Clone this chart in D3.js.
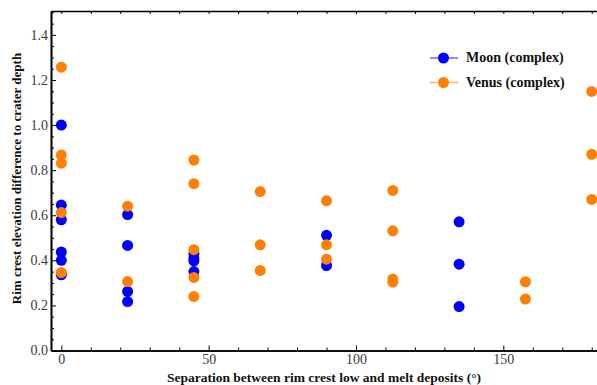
<!DOCTYPE html>
<html>
<head>
<meta charset="utf-8">
<script src="https://cdn.jsdelivr.net/npm/d3@7"></script>
<style>
  body { margin: 0; background: #fff; }
  .label { font-family: 'Liberation Serif', 'Times New Roman', serif; font-size: 13px; font-weight: bold; fill: #111; }
</style>
</head>
<body>
<div id="chart"></div>
<script>
// separation (degrees) and ratio values
let moonX = [0, 0, 0, 0, 0, 0, 22.5, 22.5, 22.5, 22.5, 45, 45, 45, 45, 90, 90, 135, 135, 135]
let moonY = [1.0, 0.645, 0.58, 0.437, 0.40, 0.336, 0.603, 0.466, 0.262, 0.217, 0.43, 0.41, 0.398, 0.35, 0.511, 0.377, 0.571, 0.383, 0.195]

let venusX = [0, 0, 0, 0, 0, 22.5, 22.5, 45, 45, 45, 45, 45, 67.5, 67.5, 67.5, 90, 90, 90, 112.5, 112.5, 112.5, 112.5, 157.5, 157.5, 180, 180, 180]
let venusY = [1.257, 0.867, 0.831, 0.612, 0.346, 0.640, 0.306, 0.845, 0.740, 0.447, 0.324, 0.239, 0.705, 0.469, 0.355, 0.664, 0.469, 0.405, 0.710, 0.531, 0.317, 0.303, 0.305, 0.228, 1.149, 0.870, 0.670]

let xTicks = [0, 50, 100, 150]
let yTicks = [0, 0.2, 0.4, 0.6, 0.8, 1.0, 1.2, 1.4]

let series = [
  { name: 'Moon (complex)', xs: moonX, ys: moonY, color: '#0000ff' },
  { name: 'Venus (complex)', xs: venusX, ys: venusY, color: '#ff8000' }
]

let width = 597
let height = 385
let margin = { top: 11, left: 51, bottom: 34.5 }
let serif = "'Liberation Serif', 'Times New Roman', serif"

let svg = d3
  .select('#chart')
  .append('svg')
  .attr('width', width)
  .attr('height', height)

let xPositionScale = d3
  .scaleLinear()
  .domain([-3.5, 182])
  .range([margin.left, margin.left + 185.5 * 2.9467])

let yPositionScale = d3
  .scaleLinear()
  .domain([0, 1.506])
  .range([height - margin.bottom, margin.top])

let bottom = height - margin.bottom

// minor ticks
let xMinor = d3.range(0, 181, 10).filter(d => d % 50 !== 0)
let yMinor = d3.range(0, 1.5001, 0.05).filter(d => Math.round(d * 100) % 20 !== 0)

let xAxis = d3.axisBottom(xPositionScale)
  .tickValues(xTicks)
  .tickSize(-5)
  .tickSizeOuter(0)
  .tickPadding(4)
  .tickFormat(d3.format('d'))
svg.append('g')
  .attr('class', 'axis x-axis')
  .attr('transform', 'translate(0,' + bottom + ')')
  .call(xAxis)

svg.append('g')
  .attr('class', 'axis')
  .attr('transform', 'translate(0,' + bottom + ')')
  .call(d3.axisBottom(xPositionScale).tickValues(xMinor).tickSize(-3).tickSizeOuter(0).tickFormat(''))

let yAxis = d3.axisLeft(yPositionScale)
  .tickValues(yTicks)
  .tickSize(-5)
  .tickSizeOuter(0)
  .tickPadding(3)
  .tickFormat(d3.format('.1f'))
svg.append('g')
  .attr('class', 'axis y-axis')
  .attr('transform', 'translate(' + margin.left + ',0)')
  .call(yAxis)

svg.append('g')
  .attr('class', 'axis')
  .attr('transform', 'translate(' + margin.left + ',0)')
  .call(d3.axisLeft(yPositionScale).tickValues(yMinor).tickSize(-3).tickSizeOuter(0).tickFormat(''))

// top frame with inward ticks
svg.append('g')
  .attr('class', 'axis')
  .attr('transform', 'translate(0,' + margin.top + ')')
  .call(d3.axisTop(xPositionScale).tickValues(d3.range(0, 181, 10)).tickSize(-3).tickSizeOuter(0).tickFormat(''))

svg.selectAll('.axis')
  .attr('font-family', serif)
  .attr('font-size', 14)
svg.selectAll('.axis path').attr('stroke', '#000').attr('stroke-width', 1.6)
svg.selectAll('.axis line').attr('stroke', '#000').attr('stroke-width', 1)
svg.selectAll('.axis text')
  .attr('fill', '#3a3a3a')
  .style('font-family', serif)
  .style('font-size', '14px')

// points, venus drawn over moon
series.forEach(s => {
  svg
    .selectAll('.pt-' + s.color.slice(1))
    .data(s.xs.map((x, i) => ({ x: x, y: s.ys[i] })))
    .enter()
    .append('circle')
    .attr('cx', d => xPositionScale(d.x))
    .attr('cy', d => yPositionScale(d.y))
    .attr('r', 5.5)
    .attr('fill', s.color)
})

// legend
let legend = svg.append('g').attr('transform', 'translate(430,58)')
series.forEach((s, i) => {
  let g = legend.append('g').attr('transform', 'translate(0,' + i * 24.5 + ')')
  g.append('line')
    .attr('x1', 0).attr('x2', 28)
    .attr('stroke', s.color).attr('stroke-opacity', 0.6).attr('stroke-width', 1.5)
  g.append('circle').attr('cx', 13.5).attr('r', 5.5).attr('fill', s.color)
  g.append('text')
    .attr('class', 'label')
    .attr('x', 36).attr('y', 4)
    .style('font-size', '14px')
    .text(s.name)
})

// axis labels
svg.append('text')
  .attr('class', 'label')
  .attr('x', (margin.left + width) / 2)
  .attr('y', 382)
  .attr('text-anchor', 'middle')
  .style('font-size', '13.5px')
  .text('Separation between rim crest low and melt deposits (°)')

svg.append('text')
  .attr('class', 'label')
  .attr('transform', 'translate(21,' + 178.5 + ') rotate(-90)')
  .attr('text-anchor', 'middle')
  .text('Rim crest elevation difference to crater depth')
</script>
</body>
</html>
